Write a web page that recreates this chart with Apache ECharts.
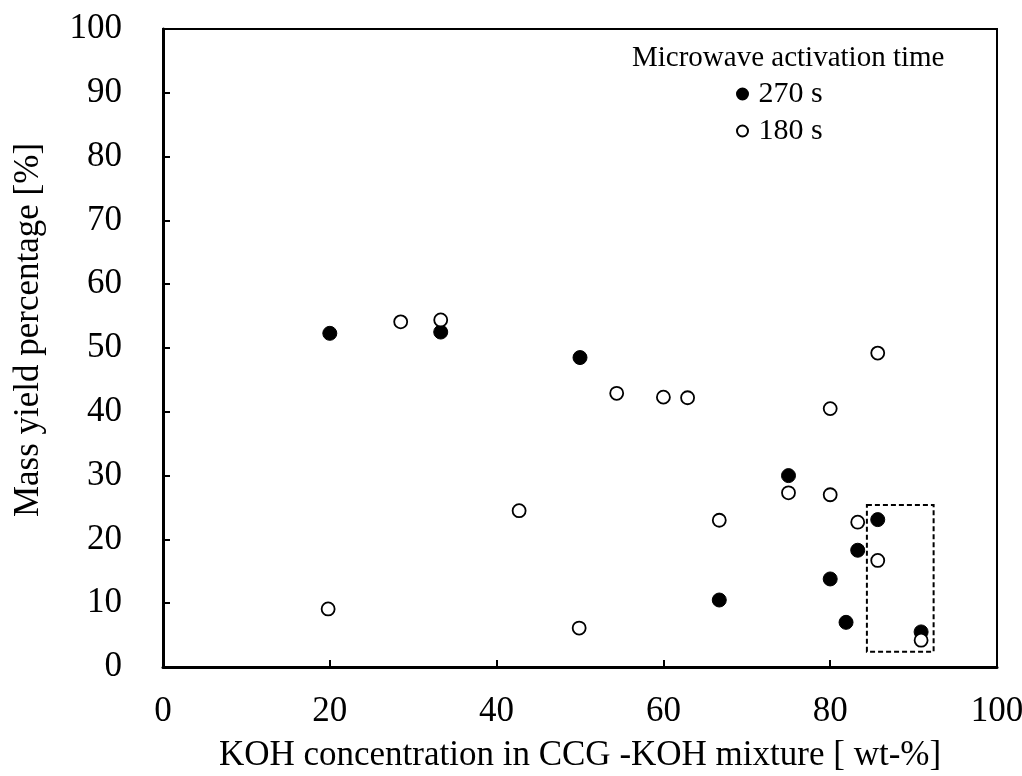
<!DOCTYPE html>
<html>
<head>
<meta charset="utf-8">
<script src="https://cdn.jsdelivr.net/npm/echarts@6/dist/echarts.min.js"></script>
<style>html,body{margin:0;padding:0;background:#fff}#c{width:1022px;height:776px}</style>
</head>
<body>
<div id="c"></div>
<script>
const xLabel = 'KOH concentration in CCG -KOH mixture [ wt-%]';
const yLabel = 'Mass yield percentage [%]';
const legendTitle = 'Microwave activation time';
const seriesNames = ['270 s', '180 s'];
const koh270 = [20, 33.3, 50, 75, 80, 83.3, 85.7, 66.7, 81.9, 90.9];
const yield270 = [52.3, 52.5, 48.5, 30.0, 13.8, 18.3, 23.1, 10.5, 7.0, 5.5];
const koh180 = [28.5, 33.3, 54.4, 60.0, 62.9, 80.0, 85.7, 75.0, 80.0, 66.7, 83.3, 85.7, 42.7, 19.8, 49.9, 90.9];
const yield180 = [54.1, 54.4, 42.9, 42.3, 42.2, 40.5, 49.2, 27.3, 27.0, 23.0, 22.7, 16.7, 24.5, 9.1, 6.1, 4.2];
const boxX = [84.4, 92.4];
const boxY = [2.4, 25.4];

const font = 'Liberation Serif, Times New Roman, serif';
const chart = echarts.init(document.getElementById('c'));
const zip = (a, b) => a.map((v, i) => [v, b[i]]);
chart.setOption({
  animation: false,
  title: {
    text: legendTitle, left: 627, top: 37,
    textStyle: { fontFamily: font, fontSize: 29, fontWeight: 'normal', color: '#000', lineHeight: 32 }
  },
  legend: {
    orient: 'vertical', left: 731, top: 74, itemGap: 7,
    itemWidth: 22, itemHeight: 11, icon: 'circle',
    textStyle: { fontFamily: font, fontSize: 30, color: '#000', lineHeight: 30 },
    data: seriesNames
  },
  grid: { left: 163, top: 29, right: 25, bottom: 109, show: true, borderColor: '#000', borderWidth: 2,
          containLabel: false, outerBoundsMode: 'none' },
  xAxis: {
    type: 'value', min: 0, max: 100, interval: 20,
    name: xLabel, nameLocation: 'middle', nameGap: 71,
    nameTextStyle: { fontFamily: font, fontSize: 35, color: '#000' },
    axisLine: { show: true, lineStyle: { color: '#000', width: 3 } },
    axisTick: { show: true, inside: true, length: 7, lineStyle: { color: '#000', width: 2 } },
    axisLabel: { fontFamily: font, fontSize: 35, color: '#000', margin: 27 },
    splitLine: { show: false }
  },
  yAxis: {
    type: 'value', min: 0, max: 100, interval: 10,
    name: yLabel, nameLocation: 'middle', nameGap: 117,
    nameTextStyle: { fontFamily: font, fontSize: 35, color: '#000', padding: [0, 0, 0, 36] },
    axisLine: { show: true, lineStyle: { color: '#000', width: 3 } },
    axisTick: { show: true, inside: true, length: 7, lineStyle: { color: '#000', width: 2 } },
    axisLabel: { fontFamily: font, fontSize: 35, color: '#000', margin: 41 },
    splitLine: { show: false }
  },
  series: [
    {
      name: seriesNames[0], type: 'scatter', symbol: 'circle', symbolSize: 14,
      itemStyle: { color: '#000', borderColor: '#000', borderWidth: 1, opacity: 1 },
      data: zip(koh270, yield270),
      markArea: {
        silent: true,
        itemStyle: { color: 'rgba(0,0,0,0)', borderColor: '#000', borderWidth: 2, borderType: [5, 3] },
        data: [[{ coord: [boxX[0], boxY[1]] }, { coord: [boxX[1], boxY[0]] }]]
      }
    },
    {
      name: seriesNames[1], type: 'scatter', symbol: 'circle', symbolSize: 13,
      itemStyle: { color: '#fff', borderColor: '#000', borderWidth: 1.8, opacity: 1 },
      data: zip(koh180, yield180)
    }
  ]
});
</script>
</body>
</html>
